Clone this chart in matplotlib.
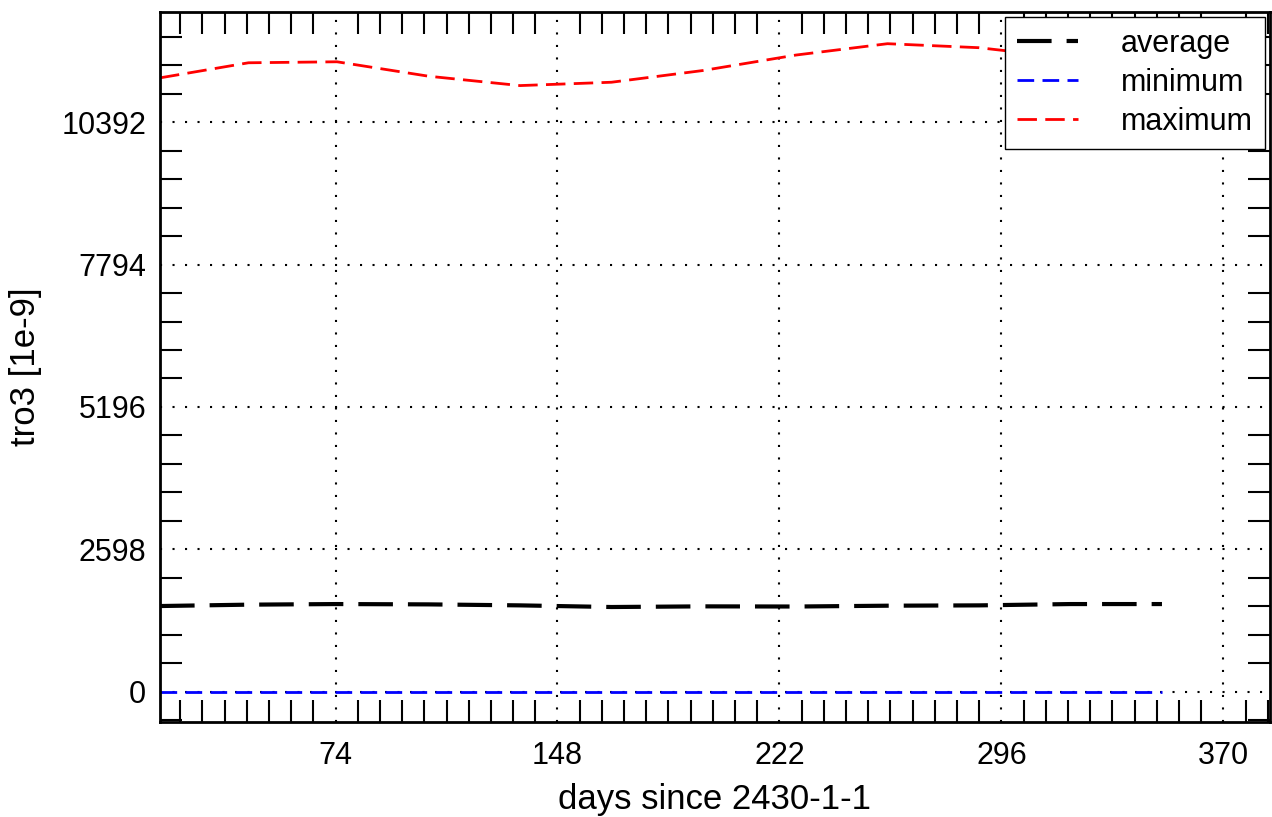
import matplotlib
matplotlib.use('Agg')
import matplotlib.pyplot as plt
from matplotlib.ticker import MultipleLocator, FixedLocator
import numpy as np

plt.rcParams['font.family'] = ['Liberation Sans', 'DejaVu Sans']

# days since 2430-1-1 (monthly means)
days = np.array([15.5, 45, 74.5, 105, 135.5, 166, 196.5, 227.5, 258, 288.5, 319, 349.5])
# tro3 [1e-9]
average = np.array([1565, 1590, 1601, 1595, 1577, 1547, 1559, 1556, 1571, 1577, 1601, 1601])
minimum = np.array([0, 0, 0, 0, 0, 0, 0, 0, 0, 0, 0, 0])
maximum = np.array([11199, 11474, 11492, 11229, 11058, 11119, 11333, 11615, 11822, 11749, 11560, 11300])

xticks = [74, 148, 222, 296, 370]
yticks = [0, 2598, 5196, 7794, 10392]

fig = plt.figure(figsize=(12.72, 8.17), dpi=100)
ax = fig.add_axes([0.1258, 0.1163, 0.8726, 0.869])

ax.plot(days, average, color='black', lw=3, dashes=(8.3, 3.6), label='average')
ax.plot(days, minimum, color='blue', lw=2, dashes=(6, 3), label='minimum')
ax.plot(days, maximum, color='red', lw=2, dashes=(7, 3), label='maximum')

ax.set_xlim(15.5, 385.5)
ax.set_ylim(-550, 12400)
ax.xaxis.set_major_locator(FixedLocator(xticks))
ax.yaxis.set_major_locator(FixedLocator(yticks))
ax.xaxis.set_minor_locator(MultipleLocator(7.4))
ax.yaxis.set_minor_locator(MultipleLocator(519.6))
ax.tick_params(which='both', direction='in', top=True, right=True, length=16, width=1.5, labelsize=22)
ax.tick_params(which='major', length=0)
ax.tick_params(axis='x', which='major', pad=14)
ax.tick_params(axis='y', which='major', pad=10)
ax.grid(True, which='major', color='black', linestyle=(0, (1, 5)), lw=1.5)

for s in ax.spines.values():
    s.set_linewidth(2)

ax.set_xlabel('days since 2430-1-1', fontsize=25, labelpad=8)
ax.set_ylabel('tro3 [1e-9]', fontsize=25, labelpad=14)

leg = ax.legend(loc='upper right', fontsize=22, handlelength=2.0, fancybox=False,
                framealpha=1, edgecolor='black', borderaxespad=0.15, handletextpad=1.4,
                labelspacing=0.3)
leg.get_frame().set_linewidth(1)

fig.savefig('out.png', dpi=100)
